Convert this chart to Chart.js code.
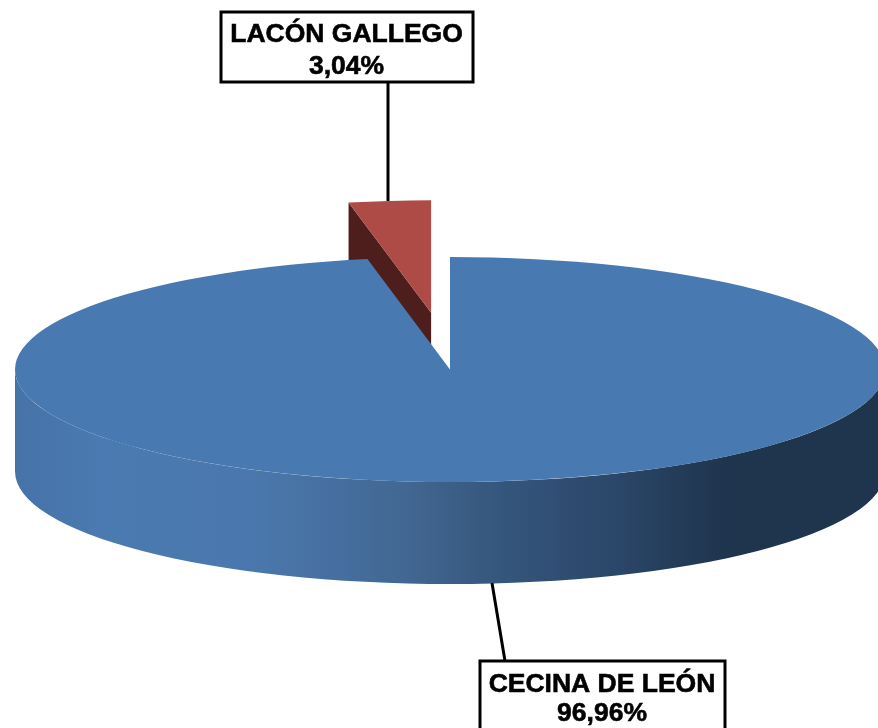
<!DOCTYPE html>
<html>
<head>
<meta charset="utf-8">
<style>html,body{margin:0;padding:0;background:#fff;overflow:hidden}canvas{display:block}</style>
<script src="https://cdn.jsdelivr.net/npm/chart.js@4/dist/chart.umd.min.js"></script>
</head>
<body>
<canvas id="c" width="878" height="728"></canvas>
<script>
const categories = ['CECINA DE LEÓN', 'LACÓN GALLEGO'];
const values = [96.96, 3.04];
const topColors = ['#4979B1', '#AE4B47'];

const SQUASH = 112.5 / 435;
const DEPTH = 102;
const EXPLODE = 220;

function shift(el, i) {
  if (i !== 1) return {dx: 0, dy: 0};
  const mid = (el.startAngle + el.endAngle) / 2;
  return {dx: Math.cos(mid) * EXPLODE * 0.9, dy: Math.sin(mid) * EXPLODE * SQUASH};
}

const pie3d = {
  id: 'pie3d',
  beforeDatasetsDraw(chart) {
    const ctx = chart.ctx;
    const arcs = chart.getDatasetMeta(0).data;
    // far slice first, so the large slice overlaps it
    [1, 0].forEach(i => {
      const el = arcs[i];
      const {dx, dy} = shift(el, i);
      const cx = el.x + dx, cy = el.y + dy, r = el.outerRadius, ry = r * SQUASH;
      ctx.save();
      if (i === 0) {
        const g = ctx.createLinearGradient(cx - r, 0, cx + r, 0);
        g.addColorStop(0, '#4673A8');
        g.addColorStop(0.10, '#4A7AB1');
        g.addColorStop(0.27, '#4A78AE');
        g.addColorStop(0.45, '#426792');
        g.addColorStop(0.56, '#35567C');
        g.addColorStop(0.70, '#2A4567');
        g.addColorStop(0.82, '#1F344D');
        g.addColorStop(1, '#1F344D');
        ctx.fillStyle = g;
        ctx.beginPath();
        ctx.ellipse(cx, cy, r, ry, 0, Math.PI, 0, true);
        ctx.lineTo(cx + r, cy + DEPTH);
        ctx.ellipse(cx, cy + DEPTH, r, ry, 0, 0, Math.PI, false);
        ctx.closePath();
        ctx.fill();
      } else {
        const ex = cx + Math.cos(el.startAngle) * r;
        const ey = cy + Math.sin(el.startAngle) * ry;
        ctx.fillStyle = '#4E1E1D';
        ctx.beginPath();
        ctx.moveTo(cx, cy);
        ctx.lineTo(ex, ey);
        ctx.lineTo(ex, ey + DEPTH);
        ctx.lineTo(cx, cy + DEPTH);
        ctx.closePath();
        ctx.fill();
      }
      ctx.translate(cx, cy);
      ctx.scale(1, SQUASH);
      ctx.translate(-el.x, -el.y);
      el.draw(ctx);
      ctx.restore();
    });
    return false;
  },
  afterDraw(chart) {
    const ctx = chart.ctx;
    const fmt = v => v.toFixed(2).replace('.', ',') + '%';
    const boxes = [
      {i: 1, x: 221, y: 12, w: 252, h: 70, b1: 42, b2: 74, tx: 346.5, line: [388, 82, 388, 201]},
      {i: 0, x: 480, y: 661, w: 245, h: 71, b1: 692, b2: 721, tx: 602, line: [492, 583, 505, 661]}
    ];
    ctx.save();
    boxes.forEach(b => {
      ctx.strokeStyle = '#000';
      ctx.lineWidth = 3;
      ctx.beginPath();
      ctx.moveTo(b.line[0], b.line[1]);
      ctx.lineTo(b.line[2], b.line[3]);
      ctx.stroke();
      ctx.fillStyle = '#fff';
      ctx.fillRect(b.x, b.y, b.w, b.h);
      ctx.strokeRect(b.x, b.y, b.w, b.h);
      ctx.fillStyle = '#000';
      ctx.textAlign = 'center';
      ctx.textBaseline = 'alphabetic';
      ctx.font = 'bold 26.5px "Liberation Sans", Arial, sans-serif';
      ctx.lineWidth = 0.6;
      [categories[b.i], fmt(values[b.i])].forEach((t, k) => {
        const y = k === 0 ? b.b1 : b.b2;
        ctx.fillText(t, b.tx, y);
        ctx.strokeText(t, b.tx, y);
      });
    });
    ctx.restore();
  }
};

new Chart(document.getElementById('c'), {
  type: 'pie',
  data: {
    labels: categories,
    datasets: [{data: values, backgroundColor: topColors, borderWidth: 0}]
  },
  options: {
    responsive: false,
    animation: false,
    radius: 435,
    layout: {padding: {left: 22, top: 11}},
    plugins: {legend: {display: false}, tooltip: {enabled: false}, title: {display: false}}
  },
  plugins: [pie3d]
});
</script>
</body>
</html>
